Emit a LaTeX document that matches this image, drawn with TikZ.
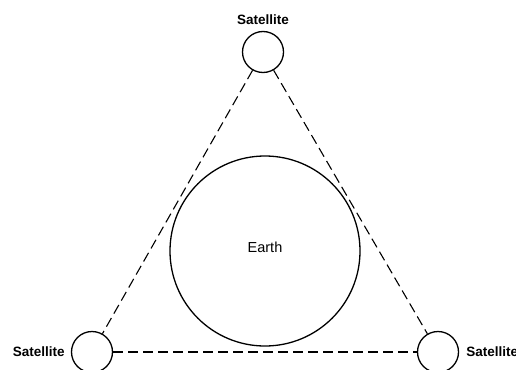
\documentclass[tikz,border=0pt]{standalone}
\usepackage{fontspec}
\setmainfont{Liberation Sans}
\usepackage{tikz}
\usetikzlibrary{positioning}

\begin{document}
\begin{tikzpicture}[x=1pt, y=1pt, node distance=6pt,
    sat/.style={draw, circle, line width=1.3pt, minimum size=41pt, inner sep=0pt},
    lbl/.style={inner sep=0pt, font=\fontsize{13.5}{15}\selectfont\bfseries},
    link/.style={line width=1.1pt, dash pattern=on 10pt off 5pt}]
  \useasboundingbox (0,0) rectangle (516,-369);

  \node[draw, circle, line width=1.3pt, minimum size=190pt] (earth) at (265,-251) {};
  \node[font=\fontsize{14.5}{16}\selectfont] (earthlbl) at (265,-247) {Earth};

  \node[sat] (satT) at (263,-52) {};
  \node[sat] (satL) at (92,-352) {};
  \node[sat] (satR) at (438,-352) {};

  \node[lbl, above=6pt of satT] {Satellite};
  \node[lbl, left=6pt of satL] {Satellite};
  \node[lbl, right=7pt of satR] {Satellite};

  \draw[link] (satT) -- (satL);
  \draw[link] (satT) -- (satR);
  \draw[link] (satL) -- (satR);
\end{tikzpicture}
\end{document}
